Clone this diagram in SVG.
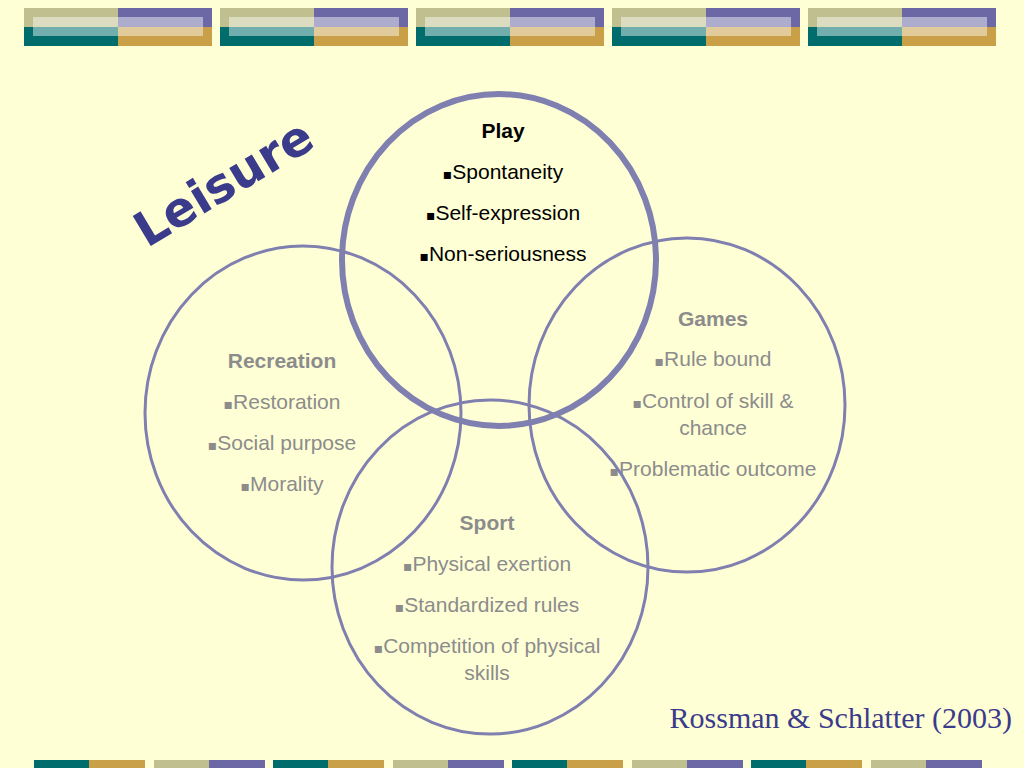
<svg xmlns="http://www.w3.org/2000/svg" width="1024" height="768" viewBox="0 0 1024 768">
<style>
.t{font-family:"Liberation Sans",Arial,sans-serif;font-size:21px;text-anchor:middle}
.g{fill:#8c8c8c}.k{fill:#000}
.c{fill:none;stroke:#7f7fb0;stroke-width:3}
.b{font-family:"DejaVu Sans",sans-serif;font-size:14px}
</style>
<defs>
<g id="blk"><rect x="0" y="0" width="94" height="19" fill="#bfbf8f"/><rect x="94" y="0" width="94" height="19" fill="#6b68a5"/><rect x="0" y="19" width="94" height="19" fill="#006c6c"/><rect x="94" y="19" width="94" height="19" fill="#c9a048"/><rect x="9" y="9" width="170" height="19" fill="#fff" fill-opacity="0.45"/></g>
</defs>
<rect width="1024" height="768" fill="#ffffd6"/>
<use href="#blk" x="24" y="8"/><use href="#blk" x="220" y="8"/><use href="#blk" x="416" y="8"/><use href="#blk" x="612" y="8"/><use href="#blk" x="808" y="8"/>
<g>
<rect x="34" y="760" width="55" height="8" fill="#006c6c"/><rect x="89" y="760" width="56" height="8" fill="#c9a048"/>
<rect x="154" y="760" width="55" height="8" fill="#bfbf8f"/><rect x="209" y="760" width="56" height="8" fill="#6b68a5"/>
<rect x="273" y="760" width="55" height="8" fill="#006c6c"/><rect x="328" y="760" width="56" height="8" fill="#c9a048"/>
<rect x="393" y="760" width="55" height="8" fill="#bfbf8f"/><rect x="448" y="760" width="56" height="8" fill="#6b68a5"/>
<rect x="512" y="760" width="55" height="8" fill="#006c6c"/><rect x="567" y="760" width="56" height="8" fill="#c9a048"/>
<rect x="632" y="760" width="55" height="8" fill="#bfbf8f"/><rect x="687" y="760" width="56" height="8" fill="#6b68a5"/>
<rect x="751" y="760" width="55" height="8" fill="#006c6c"/><rect x="806" y="760" width="56" height="8" fill="#c9a048"/>
<rect x="871" y="760" width="55" height="8" fill="#bfbf8f"/><rect x="926" y="760" width="56" height="8" fill="#6b68a5"/>
</g>
<g id="recreation"><ellipse class="c" cx="303" cy="413" rx="158" ry="167"/>
<text class="t g" x="282" y="368" font-weight="bold">Recreation</text>
<text class="t g" x="282" y="409"><tspan class="b">▪</tspan>Restoration</text>
<text class="t g" x="282" y="450"><tspan class="b">▪</tspan>Social purpose</text>
<text class="t g" x="282" y="491"><tspan class="b">▪</tspan>Morality</text></g>
<g id="games"><ellipse class="c" cx="687" cy="405" rx="158" ry="167"/>
<text class="t g" x="713" y="326" font-weight="bold">Games</text>
<text class="t g" x="713" y="366"><tspan class="b">▪</tspan>Rule bound</text>
<text class="t g" x="713" y="408"><tspan class="b">▪</tspan>Control of skill &amp;</text>
<text class="t g" x="713" y="435">chance</text>
<text class="t g" x="713" y="476"><tspan class="b">▪</tspan>Problematic outcome</text></g>
<g id="sport"><ellipse class="c" cx="490" cy="567" rx="158" ry="167"/>
<text class="t g" x="487" y="530" font-weight="bold">Sport</text>
<text class="t g" x="487" y="571"><tspan class="b">▪</tspan>Physical exertion</text>
<text class="t g" x="487" y="612"><tspan class="b">▪</tspan>Standardized rules</text>
<text class="t g" x="487" y="653"><tspan class="b">▪</tspan>Competition of physical</text>
<text class="t g" x="487" y="680">skills</text></g>
<g id="play"><ellipse cx="499" cy="260" rx="157" ry="166" style="fill:none;stroke:#7f7fb0;stroke-width:6"/>
<text class="t k" x="503" y="138" font-weight="bold">Play</text>
<text class="t k" x="503" y="179"><tspan class="b">▪</tspan>Spontaneity</text>
<text class="t k" x="503" y="220"><tspan class="b">▪</tspan>Self-expression</text>
<text class="t k" x="503" y="261"><tspan class="b">▪</tspan>Non-seriousness</text></g>
<text transform="translate(232,197) rotate(-31)" font-family="'DejaVu Sans',sans-serif" font-size="48" font-weight="bold" fill="#3b3b8c" text-anchor="middle">Leisure</text>
<text x="1012" y="728" font-family="'Liberation Serif',serif" font-size="30" fill="#3b3b8c" text-anchor="end">Rossman &amp; Schlatter (2003)</text>
</svg>
